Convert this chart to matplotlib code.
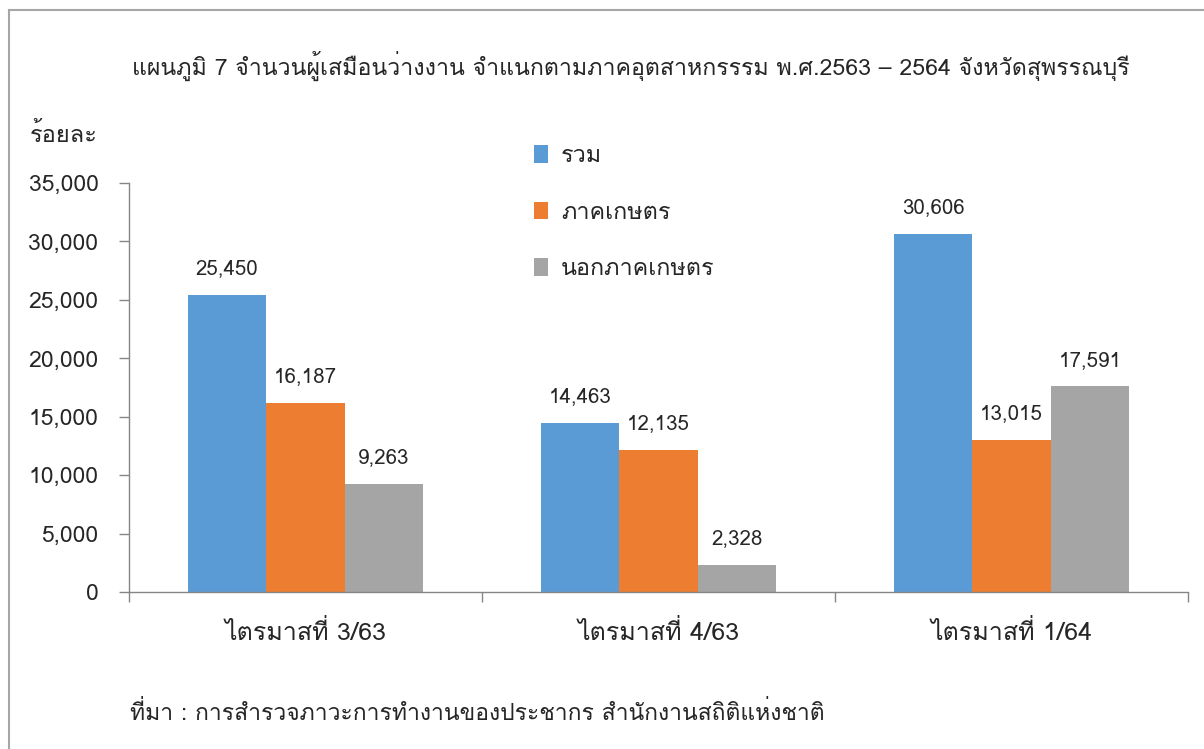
import matplotlib
matplotlib.use("Agg")
import matplotlib.pyplot as plt
from matplotlib import font_manager
from matplotlib.ft2font import FT2Font
from matplotlib.lines import Line2D
from matplotlib.patches import Patch
import numpy as np

# Data
categories = ["ไตรมาสที่ 3/63", "ไตรมาสที่ 4/63", "ไตรมาสที่ 1/64"]
series_names = ["รวม", "ภาคเกษตร", "นอกภาคเกษตร"]
total = [25450, 14463, 30606]
agri = [16187, 12135, 13015]
non_agri = [9263, 2328, 17591]

colors = ["#5B9BD5", "#ED7D31", "#A5A5A5"]
TEXT = "#262626"
AXIS = "#868686"


# find an installed family that has Thai glyphs
def thai_family():
    for f in font_manager.fontManager.ttflist:
        try:
            if 0x0E01 in FT2Font(f.fname).get_charmap():
                return f.name
        except Exception:
            continue
    return None


fam = thai_family()
plt.rcParams["font.family"] = ([fam] if fam else []) + ["DejaVu Sans"]

fig = plt.figure(figsize=(12.04, 7.49), dpi=100, facecolor="white")
ax = fig.add_axes([129 / 1204, 1 - 592 / 749, (1188 - 129) / 1204, (592 - 183) / 749])

x = np.arange(len(categories))
w = 0.667 / 3
for i, (vals, name) in enumerate(zip([total, agri, non_agri], series_names)):
    bars = ax.bar(x + (i - 1) * w, vals, w, color=colors[i], label=name)
    for b, v in zip(bars, vals):
        ax.annotate(f"{v:,}", (b.get_x() + b.get_width() / 2, v),
                    xytext=(0, 19), textcoords="offset points",
                    ha="center", va="center", fontsize=14.8, color=TEXT)

ax.set_xlim(-0.5, 2.5)
ax.set_ylim(0, 35000)
ax.set_yticks(np.arange(0, 35001, 5000))
ax.set_yticklabels([f"{t:,}" for t in range(0, 35001, 5000)], fontsize=16.5, color=TEXT)
ax.set_xticks([-0.5, 0.5, 1.5, 2.5], minor=False)
ax.set_xticklabels([])
ax.set_xticks(x, minor=True)
ax.set_xticklabels(categories, minor=True, fontsize=18, color=TEXT)
ax.tick_params(axis="x", which="major", length=7, color=AXIS, width=1)
ax.tick_params(axis="x", which="minor", length=0, pad=20)
ax.tick_params(axis="y", length=7, color=AXIS, width=1, pad=15)

for s in ["top", "right"]:
    ax.spines[s].set_visible(False)
for s in ["left", "bottom"]:
    ax.spines[s].set_color(AXIS)
    ax.spines[s].set_linewidth(1)

handles = [Patch(facecolor=c, edgecolor="none") for c in colors]
fig.legend(handles, series_names, loc="upper left",
           bbox_to_anchor=(534 / 1204, 1 - 145 / 749), frameon=False,
           fontsize=16.8, handlelength=0.6, handleheight=0.8,
           handletextpad=0.55, labelspacing=1.48, borderpad=0, borderaxespad=0,
           labelcolor=TEXT)

fig.text(631 / 1204, 1 - 66 / 749,
         "แผนภูมิ 7 จำนวนผู้เสมือนว่างงาน จำแนกตามภาคอุตสาหกรรรม พ.ศ.2563 – 2564 จังหวัดสุพรรณบุรี",
         ha="center", va="center", fontsize=16.7, color=TEXT)
fig.text(30 / 1204, 1 - 135 / 749, "ร้อยละ", ha="left", va="center",
         fontsize=17, color=TEXT)
fig.text(130 / 1204, 1 - 713 / 749,
         "ที่มา : การสำรวจภาวะการทำงานของประชากร สำนักงานสถิติแห่งชาติ",
         ha="left", va="center", fontsize=16.5, color=TEXT)

# outer border (left and top only visible in crop)
fig.add_artist(Line2D([8.5 / 1204, 8.5 / 1204], [0, 1 - 9.5 / 749],
                      transform=fig.transFigure, color="#A6A6A6", lw=1.5))
fig.add_artist(Line2D([8.5 / 1204, 1], [1 - 9.5 / 749, 1 - 9.5 / 749],
                      transform=fig.transFigure, color="#A6A6A6", lw=1.5))

fig.savefig("out.png", dpi=100, facecolor="white")
